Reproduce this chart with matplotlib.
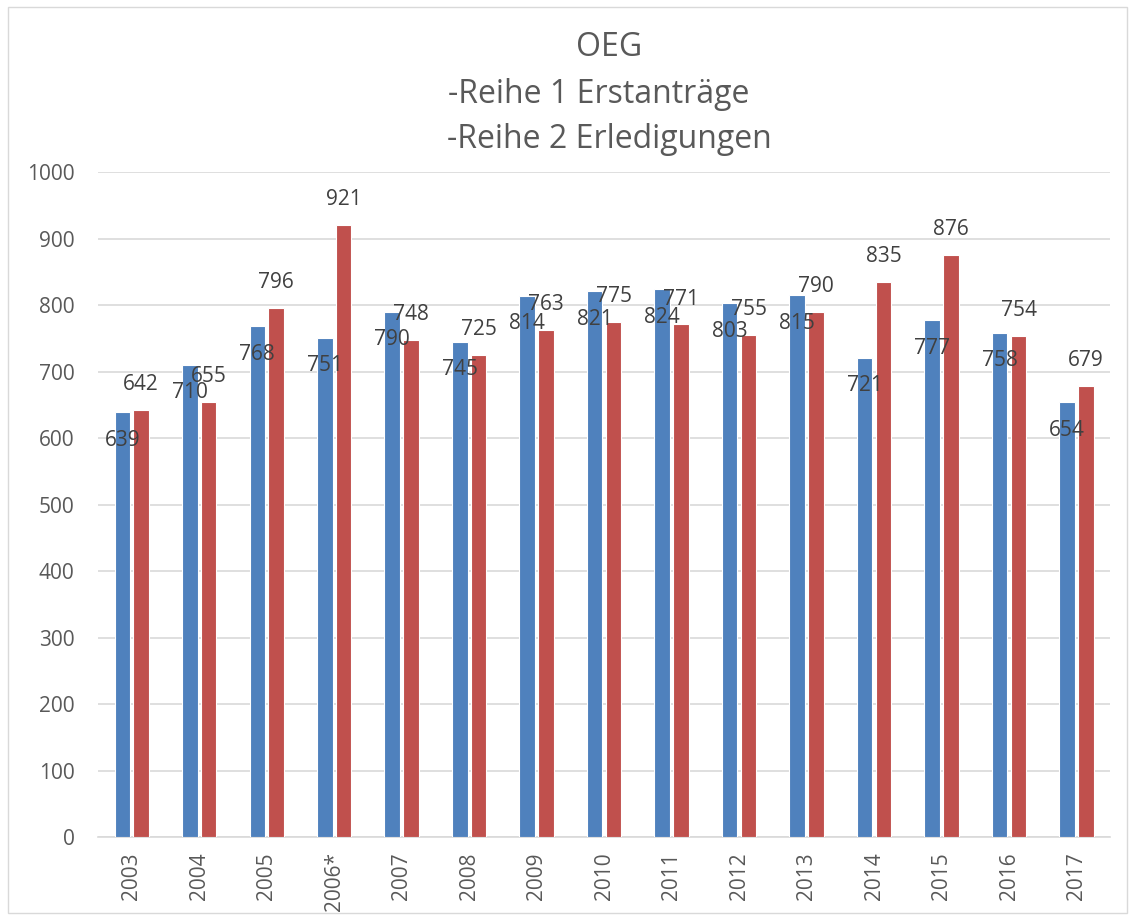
import matplotlib.pyplot as plt
import numpy as np
from matplotlib.patches import Rectangle

years = ['2003', '2004', '2005', '2006*', '2007', '2008', '2009', '2010',
         '2011', '2012', '2013', '2014', '2015', '2016', '2017']
erstantraege = [639, 710, 768, 751, 790, 745, 814, 821, 824, 803, 815, 721, 777, 758, 654]
erledigungen = [642, 655, 796, 921, 748, 725, 763, 775, 771, 755, 790, 835, 876, 754, 679]

plt.rcParams['font.family'] = ['Open Sans', 'DejaVu Sans']

fig = plt.figure(figsize=(11.33, 9.18), dpi=100)
ax = fig.add_axes([0.0865, 0.088, 0.8935, 0.7246])

x = np.arange(len(years))
w = 0.23
ax.bar(x - 0.14, erstantraege, w, color='#4F81BD', edgecolor='white', linewidth=0.8, zorder=3)
ax.bar(x + 0.14, erledigungen, w, color='#C0504D', edgecolor='white', linewidth=0.8, zorder=3)

for i in range(len(years)):
    ax.text(x[i] - 0.14, erstantraege[i] - 42, str(erstantraege[i]), ha='center', va='center',
            fontsize=15, color='#404040', zorder=4)
    ax.text(x[i] + 0.14, erledigungen[i] + 38, str(erledigungen[i]), ha='center', va='center',
            fontsize=15, color='#404040', zorder=4)

ax.set_xlim(-0.5, len(years) - 0.5)
ax.set_ylim(0, 1000)
ax.set_yticks(range(0, 1001, 100))
ax.set_xticks(x)
ax.set_xticklabels(years, rotation=90)
ax.tick_params(axis='both', length=0, labelsize=15, colors='#595959')
ax.tick_params(axis='y', pad=17)
ax.tick_params(axis='x', pad=11)
ax.grid(axis='y', color='#d9d9d9', linewidth=1.2, zorder=0)
for s in ['top', 'right', 'left']:
    ax.spines[s].set_visible(False)
ax.spines['bottom'].set_color('#d9d9d9')
ax.spines['bottom'].set_linewidth(1.2)

fig.text(0.538, 0.948, 'OEG', ha='center', va='center', fontsize=23, color='#595959')
fig.text(0.528, 0.897, '-Reihe 1 Erstanträge', ha='center', va='center', fontsize=23, color='#595959')
fig.text(0.538, 0.848, '-Reihe 2 Erledigungen', ha='center', va='center', fontsize=23, color='#595959')

fig.patches.append(Rectangle((0.007, 0.005), 0.988, 0.987, transform=fig.transFigure,
                             fill=False, edgecolor='#d9d9d9', linewidth=1))

plt.savefig('out.png')
